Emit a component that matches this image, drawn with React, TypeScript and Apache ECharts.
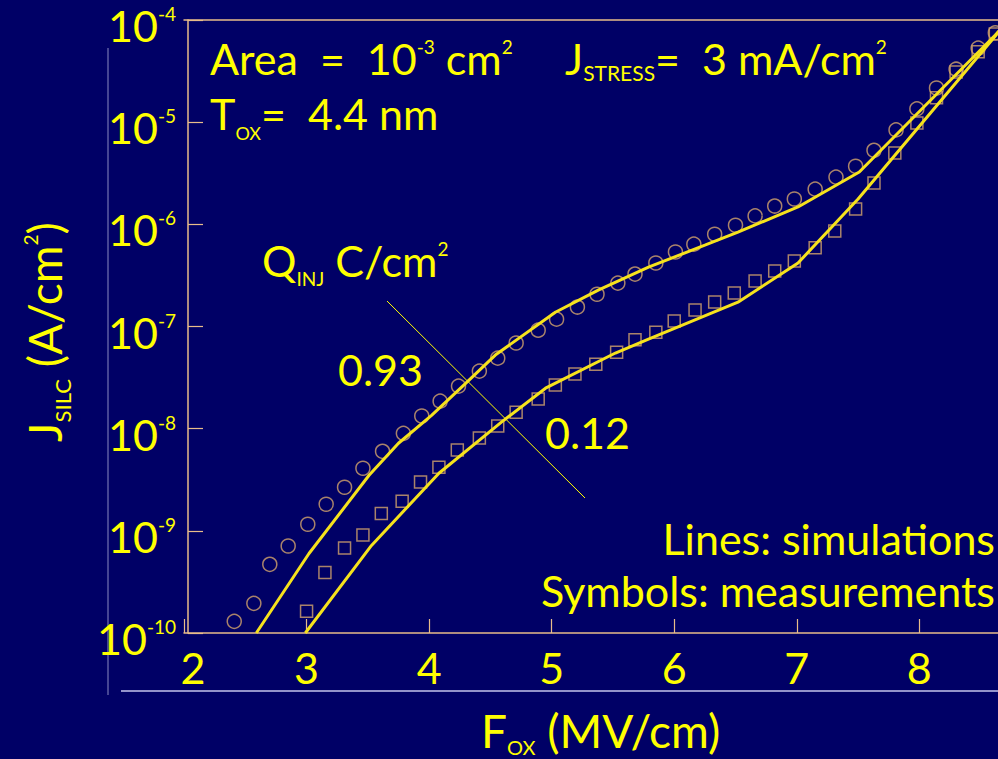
import React, { useEffect, useRef } from "react";
import * as echarts from "echarts";

// Measurements, Q_INJ = 0.93 C/cm2 (circles)
const measField093 = [2.41, 2.57, 2.70, 2.85, 3.01, 3.16, 3.31, 3.46, 3.62, 3.79, 3.94, 4.09, 4.24, 4.41, 4.56, 4.71, 4.89, 5.04, 5.21, 5.37, 5.54, 5.68, 5.85, 6.01, 6.16, 6.33, 6.50, 6.66, 6.82, 6.98, 7.15, 7.32, 7.48, 7.63, 7.81, 7.98, 8.14, 8.30, 8.48, 8.62];
const measJ093 = [1.30e-10, 1.95e-10, 4.7e-10, 7.1e-10, 1.16e-9, 1.82e-9, 2.67e-9, 4.1e-9, 6.0e-9, 9.0e-9, 1.33e-8, 1.86e-8, 2.61e-8, 3.66e-8, 4.9e-8, 6.9e-8, 9.2e-8, 1.18e-7, 1.55e-7, 2.07e-7, 2.66e-7, 3.26e-7, 4.18e-7, 5.36e-7, 6.4e-7, 8.0e-7, 9.8e-7, 1.21e-6, 1.51e-6, 1.77e-6, 2.21e-6, 2.9e-6, 3.7e-6, 5.3e-6, 8.4e-6, 1.35e-5, 2.16e-5, 3.3e-5, 5.3e-5, 7.5e-5];

// Measurements, Q_INJ = 0.12 C/cm2 (squares)
const measField012 = [3.00, 3.15, 3.31, 3.46, 3.61, 3.78, 3.93, 4.08, 4.23, 4.41, 4.56, 4.71, 4.89, 5.03, 5.19, 5.36, 5.53, 5.68, 5.85, 6.00, 6.17, 6.33, 6.49, 6.66, 6.82, 6.98, 7.15, 7.31, 7.48, 7.63, 7.80, 7.98, 8.14, 8.30, 8.48, 8.62];
const measJ012 = [1.63e-10, 3.9e-10, 6.8e-10, 9.1e-10, 1.48e-9, 1.95e-9, 3.0e-9, 4.2e-9, 6.2e-9, 8.1e-9, 1.06e-8, 1.45e-8, 1.95e-8, 2.67e-8, 3.42e-8, 4.28e-8, 5.6e-8, 7.4e-8, 8.8e-8, 1.13e-7, 1.45e-7, 1.74e-7, 2.13e-7, 2.79e-7, 3.49e-7, 4.38e-7, 5.9e-7, 8.6e-7, 1.41e-6, 2.54e-6, 5.0e-6, 9.8e-6, 1.73e-5, 3.1e-5, 4.9e-5, 7.3e-5];

// Simulations (lines)
const simField093 = [2.59, 3.02, 3.51, 3.75, 4.02, 4.30, 4.54, 5.03, 5.38, 5.79, 6.25, 6.52, 7.01, 7.51, 8.62, 8.65];
const simJ093 = [1.0e-10, 6.0e-10, 3.5e-9, 7.2e-9, 1.35e-8, 2.79e-8, 5.25e-8, 1.38e-7, 2.27e-7, 3.81e-7, 6.26e-7, 8.4e-7, 1.48e-6, 3.25e-6, 7.13e-5, 7.8e-5];
const simField012 = [2.99, 3.53, 4.08, 4.59, 4.95, 5.52, 5.79, 6.52, 7.01, 7.50, 8.62, 8.65];
const simJ012 = [1.0e-10, 7.2e-10, 3.66e-9, 1.16e-8, 2.49e-8, 5.5e-8, 7.54e-8, 1.73e-7, 4.18e-7, 1.77e-6, 6.98e-5, 7.76e-5];

const xTickValues = [2, 3, 4, 5, 6, 7, 8];

const FONT = "Lato, 'Open Sans', sans-serif";
const YELLOW = "#FFFF00";
const AXIS = "#E8BC8A";
const MARK = "#D3A46C";
const LINE = "#F6E21C";

const zip = (xs: number[], ys: number[]) => xs.map((x, i) => [x, ys[i]]);

const richG = (size: number, subSize: number, subPad: number) => ({
  m: { fontSize: size, lineHeight: size, verticalAlign: "top", fill: YELLOW, fontFamily: FONT },
  sup: { fontSize: 19, lineHeight: 19, verticalAlign: "top", fill: YELLOW, fontFamily: FONT },
  sub: { fontSize: subSize, lineHeight: subSize, verticalAlign: "top", padding: [subPad, 0, 0, 0], fill: YELLOW, fontFamily: FONT },
});

const txt = (x: number, y: number, text: string, opts: any = {}) => ({
  type: "text",
  x,
  y,
  rotation: opts.rotation || 0,
  style: {
    text,
    rich: richG(opts.size || 43, opts.subSize || 18, opts.subPad || 32),
    fill: YELLOW,
    fontFamily: FONT,
    fontSize: opts.size || 43,
    align: opts.align || "left",
    verticalAlign: opts.va || "top",
  },
});

export default function App() {
  const ref = useRef<HTMLDivElement>(null);
  useEffect(() => {
    if (!ref.current) return;
    const chart = echarts.init(ref.current, null, { renderer: "svg" });
    const option: any = {
      animation: false,
      backgroundColor: "#000066",
      grid: { left: 184, right: 0, top: 20, bottom: 126, containLabel: false },
      xAxis: [
        {
          type: "value",
          min: 2,
          max: 8.65,
          interval: 1,
          position: "bottom",
          axisLine: { show: true, lineStyle: { color: AXIS, width: 1.5 } },
          axisTick: { show: true, inside: true, length: 14, lineStyle: { color: AXIS, width: 1.2 } },
          splitLine: { show: false },
          axisLabel: {
            margin: 13,
            color: YELLOW,
            fontFamily: FONT,
            fontSize: 43,
            lineHeight: 43,
            formatter: (v: number) =>
              xTickValues.indexOf(v) < 0 ? "" : v === 2 ? "{f|2}" : String(v),
            rich: { f: { fontSize: 43, lineHeight: 43, color: YELLOW, fontFamily: FONT, padding: [0, 0, 0, 18] } },
          },
        },
        {
          type: "value",
          min: 2,
          max: 8.65,
          position: "top",
          axisLine: { show: true, lineStyle: { color: AXIS, width: 1.5 } },
          axisTick: { show: false },
          axisLabel: { show: false },
          splitLine: { show: false },
        },
      ],
      yAxis: {
        type: "log",
        logBase: 10,
        min: 1e-10,
        max: 1e-4,
        offset: -4,
        axisLine: { show: true, lineStyle: { color: AXIS, width: 1.5 } },
        axisTick: { show: true, inside: true, length: 15, lineStyle: { color: AXIS, width: 1.2 } },
        splitLine: { show: false },
        minorTick: { show: false },
        axisLabel: {
          margin: 12,
          padding: [12, 0, 0, 0],
          formatter: (v: number) => `{b|10}{s|${Math.round(Math.log10(v))}}`,
          rich: {
            b: { fontSize: 43, lineHeight: 44, verticalAlign: "top", color: YELLOW, fontFamily: FONT },
            s: { fontSize: 19, lineHeight: 19, verticalAlign: "top", color: YELLOW, fontFamily: FONT },
          },
        },
      },
      series: [
        {
          type: "scatter",
          data: zip(measField093, measJ093),
          symbol: "circle",
          symbolSize: 14,
          itemStyle: { color: "rgba(0,0,0,0)", borderColor: MARK, borderWidth: 1.5 },
          z: 2,
        },
        {
          type: "scatter",
          data: zip(measField012, measJ012),
          symbol: "rect",
          symbolSize: 12,
          itemStyle: { color: "rgba(0,0,0,0)", borderColor: MARK, borderWidth: 1.5 },
          z: 2,
        },
        {
          type: "line",
          data: zip(simField093, simJ093),
          showSymbol: false,
          symbol: "none",
          lineStyle: { color: LINE, width: 3 },
          z: 3,
        },
        {
          type: "line",
          data: zip(simField012, simJ012),
          showSymbol: false,
          symbol: "none",
          lineStyle: { color: LINE, width: 3 },
          z: 3,
        },
      ],
      graphic: [
        { type: "line", shape: { x1: 108, y1: 48, x2: 108, y2: 695 }, style: { stroke: "#8A8AC0", lineWidth: 1 } },
        { type: "line", shape: { x1: 121, y1: 691, x2: 998, y2: 691 }, style: { stroke: "#C4C4EC", lineWidth: 1.5 } },
        { type: "line", shape: { x1: 387, y1: 301, x2: 585, y2: 498 }, style: { stroke: YELLOW, lineWidth: 1 } },
        txt(210, 37, "{m|Area  =  10}{sup|-3}{m| cm}{sup|2}"),
        txt(565, 37, "{m|J}{sub|STRESS}{m|=  3 mA/cm}{sup|2}", { subSize: 21, subPad: 25 }),
        txt(210, 92, "{m|T}{sub|OX}{m|=  4.4 nm}"),
        txt(262, 239, "{m|Q}{sub|INJ}{m| C/cm}{sup|2}", { subSize: 19, subPad: 30 }),
        txt(338, 348, "{m|0.93}"),
        txt(545, 411, "{m|0.12}"),
        txt(995, 517, "{m|Lines: simulations}", { align: "right" }),
        txt(995, 569, "{m|Symbols: measurements}", { align: "right" }),
        txt(481, 707, "{m|F}{sub|OX}{m| (MV/cm)}", { size: 46, subSize: 20, subPad: 30 }),
        txt(44, 332, "{m|J}{sub|SILC}{m| (A/cm}{sup|2}{m|)}", { size: 46, subSize: 22, subPad: 30, rotation: Math.PI / 2, align: "center", va: "middle" }),
      ],
    };
    chart.setOption(option);
    return () => chart.dispose();
  }, []);
  return (
    <div
      ref={ref}
      style={{ position: "fixed", left: 0, top: 0, width: 1002, height: 759 }}
    />
  );
}
